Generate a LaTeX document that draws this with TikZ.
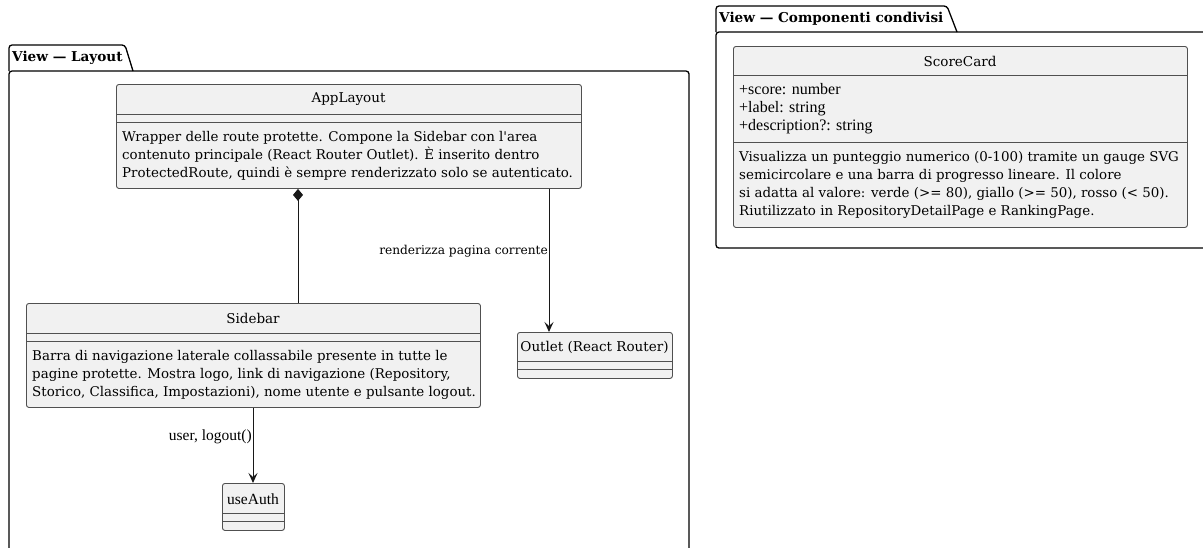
\documentclass[tikz,border=0pt]{standalone}
\usepackage{fontspec}
\setmainfont{DejaVu Serif}
\newfontfamily\altserif{Liberation Serif}
\usetikzlibrary{arrows.meta}

\definecolor{boxfill}{HTML}{F1F1F1}
\definecolor{boxline}{HTML}{505050}
\definecolor{ink}{HTML}{181818}

\tikzset{
  classbox/.style={draw=boxline, line width=0.9pt, fill=boxfill,
    rounded corners=2.5pt, inner sep=0pt, anchor=north west},
  sepline/.style={draw=boxline, line width=0.9pt},
  classname/.style={inner sep=0pt, font=\fontsize{13.5}{18}\selectfont},
  classdoc/.style={inner sep=0pt, anchor=west, align=left,
    font=\fontsize{13.4}{18}\selectfont},
  classattr/.style={inner sep=0pt, anchor=west, align=left,
    font=\altserif\fontsize{16}{18}\selectfont},
  pkgframe/.style={draw=black, line width=1.3pt, rounded corners=3pt},
  pkgtitle/.style={inner sep=0pt, anchor=west,
    font=\bfseries\fontsize{13.6}{15}\selectfont},
  link/.style={draw=ink, line width=1pt},
  toarrow/.style={link, -{Stealth[length=10pt, width=9pt, inset=4pt]}},
  composes/.style={link, {Diamond[length=12pt, width=10pt]}-},
  linklabel/.style={inner sep=0pt, anchor=east,
    font=\fontsize{12.2}{14}\selectfont},
}

\begin{document}
\begin{tikzpicture}[x=1pt, y=-1pt]
\useasboundingbox (0,0) rectangle (1203,547);
\fill[white] (0,0) rectangle (1203,547);

% ---------- package: View - Layout ----------
\draw[pkgframe] (9,580) -- (9,71) -- (689,71) -- (689,580);
\draw[pkgframe] (9,71) -- (9,45) -- (125,45) -- (133,71);
\node[pkgtitle] (pkglayout) at (12,58) {View — Layout};

% ---------- package: View - Componenti condivisi ----------
\draw[pkgframe] (1230,32) -- (716,32) -- (716,248) -- (1230,248);
\draw[pkgframe] (716,32) -- (716,6) -- (947,6) -- (957,32);
\node[pkgtitle] (pkgshared) at (719,19) {View — Componenti condivisi};

% ---------- AppLayout ----------
\node[classbox, minimum width=465pt, minimum height=104pt] (applayout) at (116,84) {};
\draw[sepline] ([yshift=-30pt]applayout.north west) -- ([yshift=-30pt]applayout.north east);
\draw[sepline] ([yshift=-38pt]applayout.north west) -- ([yshift=-38pt]applayout.north east);
\node[classname] (applayoutname) at (348.5,99.5) {AppLayout};
\node[classdoc] (applayoutdoc) at (122,155.5) {Wrapper delle route protette. Compone la Sidebar con l\textquotesingle area\\
contenuto principale (React Router Outlet). È inserito dentro\\
ProtectedRoute, quindi è sempre renderizzato solo se autenticato.};

% ---------- Sidebar ----------
\node[classbox, minimum width=454pt, minimum height=104pt] (sidebar) at (26,303) {};
\draw[sepline] ([yshift=-30pt]sidebar.north west) -- ([yshift=-30pt]sidebar.north east);
\draw[sepline] ([yshift=-38pt]sidebar.north west) -- ([yshift=-38pt]sidebar.north east);
\node[classname] (sidebarname) at (253,318.5) {Sidebar};
\node[classdoc] (sidebardoc) at (32,374.5) {Barra di navigazione laterale collassabile presente in tutte le\\
pagine protette. Mostra logo, link di navigazione (Repository,\\
Storico, Classifica, Impostazioni), nome utente e pulsante logout.};

% ---------- Outlet (React Router) ----------
\node[classbox, minimum width=155pt, minimum height=46pt] (outlet) at (517,332) {};
\draw[sepline] ([yshift=-29pt]outlet.north west) -- ([yshift=-29pt]outlet.north east);
\draw[sepline] ([yshift=-37pt]outlet.north west) -- ([yshift=-37pt]outlet.north east);
\node[classname] (outletname) at (594.5,347) {Outlet (React Router)};

% ---------- useAuth ----------
\node[classbox, minimum width=62pt, minimum height=47pt] (useauth) at (222,483) {};
\draw[sepline] ([yshift=-30pt]useauth.north west) -- ([yshift=-30pt]useauth.north east);
\draw[sepline] ([yshift=-38pt]useauth.north west) -- ([yshift=-38pt]useauth.north east);
\node[classname, font=\altserif\fontsize{15.5}{18}\selectfont] (useauthname) at (253,499) {useAuth};

% ---------- ScoreCard ----------
\node[classbox, minimum width=454pt, minimum height=181pt] (scorecard) at (733,46) {};
\draw[sepline] ([yshift=-29pt]scorecard.north west) -- ([yshift=-29pt]scorecard.north east);
\draw[sepline] ([yshift=-96pt]scorecard.north west) -- ([yshift=-96pt]scorecard.north east);
\node[classname] (scorecardname) at (960,61.5) {ScoreCard};
\node[classattr] (scorecardattr) at (739,109) {+score: number\\
+label: string\\
+description?: string};
\node[classdoc] (scorecarddoc) at (739,185) {Visualizza un punteggio numerico (0-100) tramite un gauge SVG\\
semicircolare e una barra di progresso lineare. Il colore\\
si adatta al valore: verde (>= 80), giallo (>= 50), rosso (< 50).\\
Riutilizzato in RepositoryDetailPage e RankingPage.};

% ---------- relations ----------
\coordinate (compx) at (298,0);
\coordinate (renderx) at (549,0);
\coordinate (authx) at (253,0);

\draw[composes] (applayout.south -| compx) -- (sidebar.north -| compx);
\draw[toarrow] (applayout.south -| renderx) -- (outlet.north -| renderx);
\draw[toarrow] (sidebar.south -| authx) -- (useauth.north -| authx);

\node[linklabel] (renderlabel) at (548,251) {renderizza pagina corrente};
\node[linklabel, font=\altserif\fontsize{15.5}{16}\selectfont] (authlabel) at (252,437) {user, logout()};
\end{tikzpicture}
\end{document}
